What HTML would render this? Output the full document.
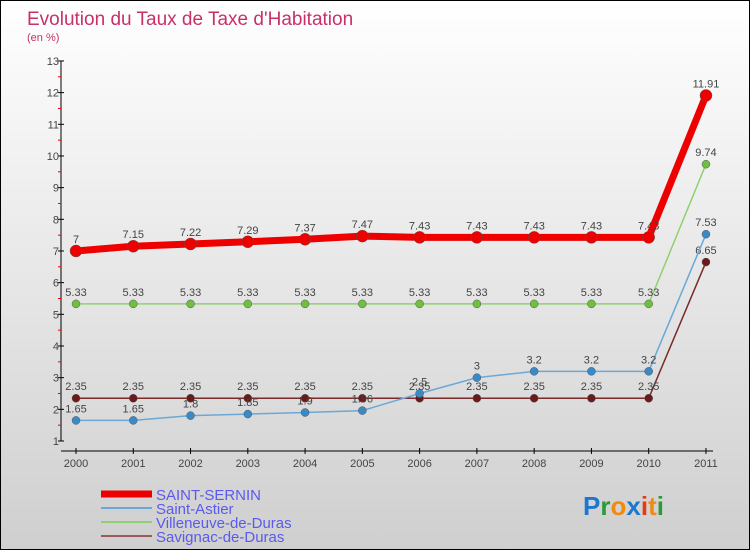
<!DOCTYPE html>
<html><head><meta charset="utf-8"><style>
body{margin:0}
#c{width:750px;height:550px;position:relative;box-sizing:border-box;border:1px solid #000;background:linear-gradient(#fff,#cfcfcf);font-family:"Liberation Sans",sans-serif;overflow:hidden}
</style></head><body>
<div id="c">
<svg id="s" width="748" height="548" style="position:absolute;left:0;top:0">
<text x="26" y="24" font-size="19" fill="#c8306a">Evolution du Taux de Taxe d'Habitation</text>
<text x="26" y="40" font-size="11" fill="#c8306a">(en %)</text>
<g id="ax"></g><g id="ser"></g><g id="leg"></g>
<text x="582" y="514" font-size="26" font-weight="bold"><tspan fill="#1a78d0">P</tspan><tspan fill="#2a9a3a">r</tspan><tspan fill="#f08a10">o</tspan><tspan fill="#1a78d0">x</tspan><tspan fill="#e83a10">i</tspan><tspan fill="#f08a10">t</tspan><tspan fill="#2a9a3a">i</tspan></text>
</svg></div>
<script>
const years=["2000","2001","2002","2003","2004","2005","2006","2007","2008","2009","2010","2011"];
const yTicks=[1,2,3,4,5,6,7,8,9,10,11,12,13];
const seriesNames=["SAINT-SERNIN","Saint-Astier","Villeneuve-de-Duras","Savignac-de-Duras"];
const sSernin=[7,7.15,7.22,7.29,7.37,7.47,7.43,7.43,7.43,7.43,7.43,11.91];
const sAstier=[1.65,1.65,1.8,1.85,1.9,1.96,2.5,3,3.2,3.2,3.2,7.53];
const sVille=[5.33,5.33,5.33,5.33,5.33,5.33,5.33,5.33,5.33,5.33,5.33,9.74];
const sSavi=[2.35,2.35,2.35,2.35,2.35,2.35,2.35,2.35,2.35,2.35,2.35,6.65];
const NS="http://www.w3.org/2000/svg";
function X(i){return 75+i*57.27;}
function Y(v){return 440-(v-1)*31.67;}
function mk(t,a,p){const e=document.createElementNS(NS,t);for(const k in a)e.setAttribute(k,a[k]);p.appendChild(e);return e;}
const ax=document.getElementById('ax'),ser=document.getElementById('ser'),leg=document.getElementById('leg');
let e=mk('line',{x1:60,y1:Y(13),x2:60,y2:Y(1),stroke:'#000'},ax);

e=mk('line',{x1:60,y1:450,x2:712,y2:450,stroke:'#000'},ax);

yTicks.forEach(v=>{
 e=mk('line',{x1:57,y1:Y(v),x2:63,y2:Y(v),stroke:'#000'},ax);
 
 e=mk('text',{x:58,y:Y(v)+4,'text-anchor':'end','font-size':11,fill:'#444'},ax);e.textContent=v;
 
 if(v<13){e=mk('line',{x1:57,y1:Y(v+0.5),x2:60,y2:Y(v+0.5),stroke:'#e00'},ax);
 }
});
years.forEach((y,i)=>{
 e=mk('line',{x1:X(i),y1:447,x2:X(i),y2:453,stroke:'#000'},ax);
 
 e=mk('text',{x:X(i),y:466,'text-anchor':'middle','font-size':11,fill:'#444'},ax);e.textContent=y;
 
});
const defs=[[sSavi,'#7a2a2a','#6a1a1a',1.5,4],[sVille,'#90d070','#70c040',1.5,4],[sAstier,'#6aa8d8','#3a8ac8',1.5,4],[sSernin,'#e00','#e00',7,6]];
const fmt=v=>String(v);
defs.forEach((d,k)=>{
 const vals=d[0];
 e=mk('polyline',{points:vals.map((v,i)=>X(i)+','+Y(v)).join(' '),fill:'none',stroke:d[1],'stroke-width':d[3]},ser);
 
 vals.forEach((v,i)=>{
  e=mk('circle',{cx:X(i),cy:Y(v),r:d[4],fill:d[2],stroke:'#555','stroke-width':0.5},ser);
  
  e=mk('text',{x:X(i),y:Y(v)-8,'text-anchor':'middle','font-size':11,fill:'#444'},ser);e.textContent=fmt(v);
  
 });
});
const lc=['#e00','#6aa8d8','#90d070','#9a5a5a'],lw=[7,2,2,2];
seriesNames.forEach((n,k)=>{
 const y=493+k*14;
 e=mk('line',{x1:100,y1:y,x2:151,y2:y,stroke:lc[k],'stroke-width':lw[k]},leg);
 
 e=mk('text',{x:155,y:y+6,'font-size':15,fill:'#5a5aee'},leg);e.textContent=n;
 
});
</script></body></html>
